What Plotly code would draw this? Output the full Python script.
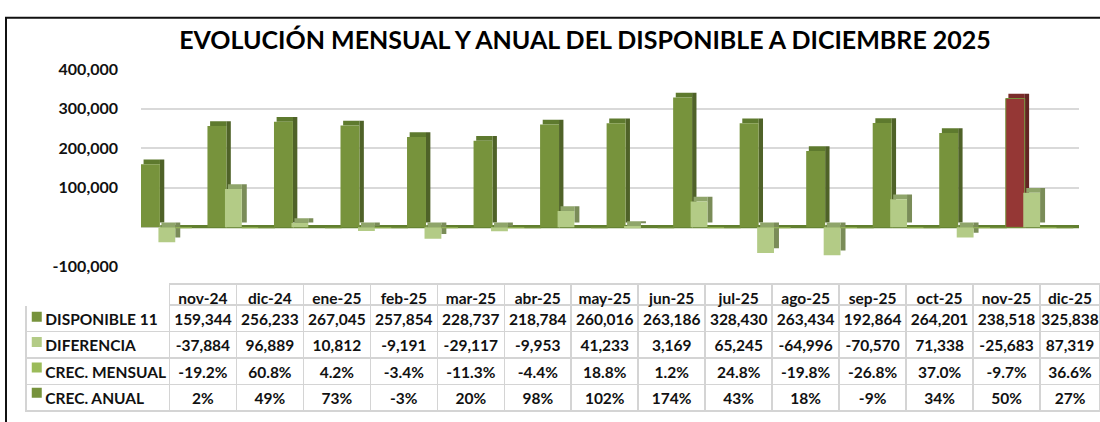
import plotly.graph_objects as go

months = ['nov-24', 'dic-24', 'ene-25', 'feb-25', 'mar-25', 'abr-25', 'may-25',
          'jun-25', 'jul-25', 'ago-25', 'sep-25', 'oct-25', 'nov-25', 'dic-25']
disponible = [159344, 256233, 267045, 257854, 228737, 218784, 260016,
              263186, 328430, 263434, 192864, 264201, 238518, 325838]
diferencia = [-37884, 96889, 10812, -9191, -29117, -9953, 41233,
              3169, 65245, -64996, -70570, 71338, -25683, 87319]
crec_mensual = [-19.2, 60.8, 4.2, -3.4, -11.3, -4.4, 18.8,
                1.2, 24.8, -19.8, -26.8, 37.0, -9.7, 36.6]
crec_anual = [2, 49, 73, -3, 20, 98, 102, 174, 43, 18, -9, 34, 50, 27]
series_names = ['DISPONIBLE 11', 'DIFERENCIA', 'CREC. MENSUAL', 'CREC. ANUAL']
series_colors = ['#77933C', '#B3CB86', '#9BBB59', '#76923C']
y_ticks = [-100000, 0, 100000, 200000, 300000, 400000]
y_tick_text = ['-100,000', '', '100,000', '200,000', '300,000', '400,000']

FONT = 'Lato'
n = len(months)
xs = list(range(n))
DY = 12000  # 3D depth (vertical)

dark_front = ['#77933C'] * (n - 1) + ['#953735']
dark_side = ['#4F6228'] * (n - 1) + ['#632523']
dark_top = ['#5E7A2E'] * (n - 1) + ['#7A2C2A']
dark_line_w = [0] * (n - 1) + [1]

fig = go.Figure()

# floor (3D top faces of the near-zero percentage series)
fig.add_trace(go.Bar(x=xs, y=[DY * 0.7] * n, base=[-DY * 0.2] * n,
                     offset=-0.22, width=1.0, marker_color='#617F2F',
                     marker_line_width=0, hoverinfo='skip'))

# DISPONIBLE 11: side, top, front
d_l, d_w, d_dx = -0.511, 0.285, 0.066
fig.add_trace(go.Bar(x=xs, y=disponible, base=[DY] * n, offset=d_l + d_w, width=d_dx,
                     marker_color=dark_side, marker_line_width=0, hoverinfo='skip'))
fig.add_trace(go.Bar(x=xs, y=[DY] * n, base=disponible, offset=d_l + d_dx * 0.6,
                     width=d_w - d_dx * 0.6 + 0.001,
                     marker_color=dark_top, marker_line_width=0, hoverinfo='skip'))
fig.add_trace(go.Bar(x=xs, y=disponible, offset=d_l, width=d_w, name=series_names[0],
                     marker=dict(color=dark_front, line=dict(color='#77933C', width=dark_line_w))))

# DIFERENCIA: side, top, front
f_l, f_w, f_dx = -0.248, 0.253, 0.075
fig.add_trace(go.Bar(x=xs, y=diferencia, base=[DY] * n, offset=f_l + f_w, width=f_dx,
                     marker_color='#7A8C58', marker_line_width=0, hoverinfo='skip'))
fig.add_trace(go.Bar(x=xs, y=[DY] * n, base=[max(v, 0) for v in diferencia],
                     offset=f_l + f_dx * 0.6, width=f_w - f_dx * 0.6 + 0.001,
                     marker_color='#8FA56A', marker_line_width=0, hoverinfo='skip'))
fig.add_trace(go.Bar(x=xs, y=diferencia, offset=f_l, width=f_w, name=series_names[1],
                     marker_color='#B3CB86', marker_line_width=0))

# percentage series (invisible at this scale)
fig.add_trace(go.Bar(x=xs, y=crec_mensual, offset=0.005, width=0.25, name=series_names[2],
                     marker_color=series_colors[2], marker_line_width=0))
fig.add_trace(go.Bar(x=xs, y=crec_anual, offset=0.255, width=0.25, name=series_names[3],
                     marker_color=series_colors[3], marker_line_width=0))

# Data table
NBSP = '\u00a0'
label_col = [NBSP * 3 + nm.replace(' ', NBSP) for nm in series_names]
cols = [label_col]
for i in range(n):
    cols.append([f'{disponible[i]:,}', f'{diferencia[i]:,}',
                 f'{crec_mensual[i]:.1f}%', f'{crec_anual[i]}%'])

grid_c = '#D4D4D4'
TABLE_TOP, HEADER_H, ROW_H = 287, 21, 26.5
table_bottom = TABLE_TOP + HEADER_H + 4 * ROW_H
fig.add_trace(go.Table(
    domain=dict(x=[26 / 1100, 1.0], y=[0.0, 1 - TABLE_TOP / 422]),
    columnwidth=[143.5] + [67] * (n - 1) + [60],
    header=dict(values=[''] + months, height=HEADER_H,
                fill_color='white',
                line=dict(color=['white'] + [grid_c] * n, width=1.5),
                font=dict(family=FONT, size=15.5, color='#111111', weight='bold'),
                align='center'),
    cells=dict(values=cols, height=ROW_H,
               fill_color='rgba(0,0,0,0)',
               line=dict(color=grid_c, width=1.5),
               font=dict(family=FONT, size=15.5, color='#111111', weight='bold'),
               align=['left'] + ['center'] * n),
))

# legend keys of the table rows
fig.add_trace(go.Scatter(x=[0.075] * 4, y=list(range(4)), mode='markers',
                         marker=dict(symbol='square', size=10, color=series_colors),
                         xaxis='x2', yaxis='y2', hoverinfo='skip'))

fig.update_layout(
    width=1100, height=422,
    margin=dict(l=0, r=0, t=0, b=0),
    paper_bgcolor='white', plot_bgcolor='rgba(0,0,0,0)',
    barmode='overlay',
    showlegend=False,
    title=dict(text='<b>EVOLUCIÓN MENSUAL Y ANUAL DEL DISPONIBLE A DICIEMBRE 2025</b>',
               x=585 / 1100, xanchor='center', y=1 - 40 / 422, yanchor='middle',
               font=dict(family=FONT, size=25, color='#000000')),
    xaxis=dict(range=[-0.51, 13.59], domain=[141 / 1100, 1079 / 1100],
               showticklabels=False, showgrid=False, zeroline=False, showline=False),
    yaxis=dict(range=[-100000, 400000], domain=[1 - 269 / 422, 1 - 62 / 422],
               tickvals=y_ticks, ticktext=y_tick_text,
               tickfont=dict(family=FONT, size=16, color='#111111', weight='bold'),
               showgrid=True, gridcolor='#D9D9D9', gridwidth=1.5,
               zeroline=False, showline=False, ticks='', ticklabelstandoff=22),
    xaxis2=dict(domain=[26 / 1100, 169.5 / 1100], range=[0, 1], visible=False, anchor='y2'),
    yaxis2=dict(domain=[1 - table_bottom / 422, 1 - (TABLE_TOP + HEADER_H) / 422],
                range=[3.5, -0.5], visible=False, anchor='x2'),
    shapes=[dict(type='rect', xref='paper', yref='paper',
                 x0=6 / 1100, x1=1.1, y0=-0.1, y1=1 - 8 / 422,
                 line=dict(color='#111111', width=2), fillcolor='rgba(0,0,0,0)', layer='above')],
)

fig.write_html('out.html', config={'displayModeBar': False},
               post_script="document.body.style.margin='0';document.body.style.overflow='hidden';")
